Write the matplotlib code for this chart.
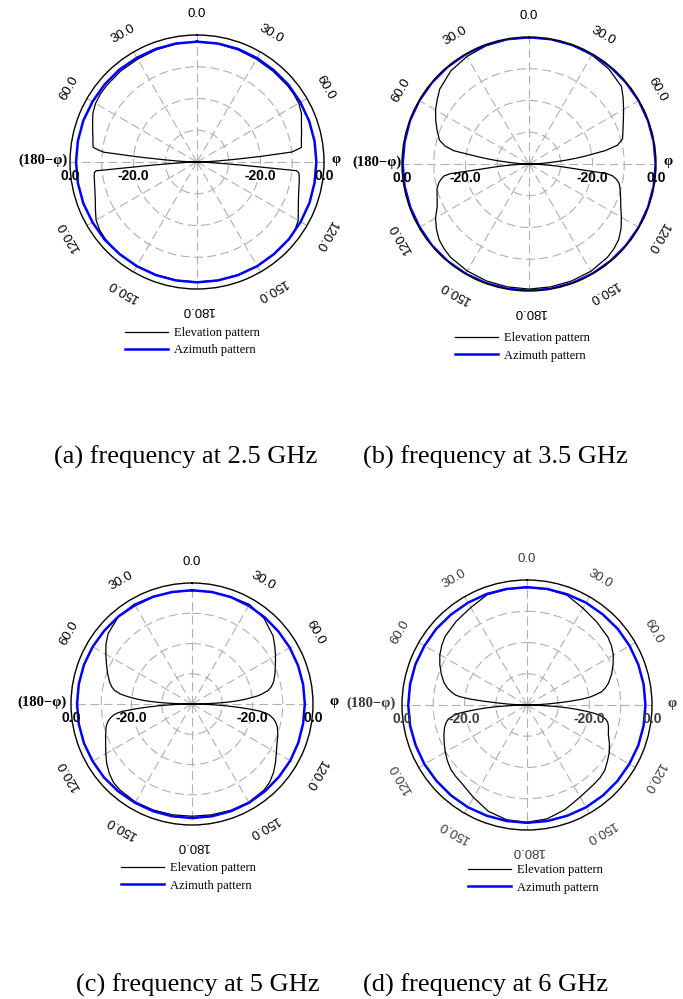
import matplotlib
matplotlib.use('Agg')
import matplotlib.pyplot as plt
from matplotlib.lines import Line2D
from matplotlib.transforms import offset_copy
import numpy as np

W, H = 683, 999

# elevation cut: angle from the top (deg), same grid for the phi side
# (right) and the (180-phi) side (left)
el_angles = [0, 10, 20, 30, 40, 50, 55, 60, 65, 70, 75, 78, 80, 82, 83, 84, 85, 86, 87, 88, 89, 90,
             91, 92, 93, 94, 95, 96, 97, 98, 100, 102, 105, 110, 115, 120, 125, 130, 135, 140, 150, 160, 170, 180]

el_a_right = [-2.1, -2.2, -2.4, -2.6, -2.7, -2.7, -2.8, -3.0, -3.7, -5.0, -5.9, -6.4, -6.6, -6.8, -8.3, -10.0, -20.0, -28.0, -33.0, -36.0, -38.5, -40.0,
              -39.0, -37.0, -34.0, -26.0, -8.5, -7.8, -7.6, -7.5, -7.3, -7.1, -6.8, -6.0, -4.8, -3.2, -2.4, -2.2, -2.2, -2.2, -2.2, -2.2, -2.2, -2.2]
el_a_left = [-2.1, -2.2, -2.4, -2.6, -2.6, -2.7, -2.8, -3.1, -3.8, -5.0, -6.0, -6.5, -6.7, -7.0, -8.6, -10.5, -21.0, -29.0, -33.5, -36.5, -38.5, -40.0,
             -39.0, -37.0, -34.0, -26.0, -8.0, -7.5, -7.4, -7.3, -7.2, -7.0, -6.7, -5.9, -4.7, -3.3, -2.6, -2.3, -2.2, -2.2, -2.2, -2.2, -2.2, -2.2]

el_b_right = [-0.1, -0.1, -0.2, -0.4, -0.9, -2.0, -3.8, -5.6, -7.2, -8.5, -9.5, -11.5, -15.5, -22.0, -25.0, -28.0, -31.0, -33.5, -35.5, -37.0, -38.5, -40.0,
              -39.0, -37.5, -35.0, -32.0, -29.0, -25.0, -15.5, -13.5, -12.0, -11.0, -10.3, -9.3, -8.1, -6.4, -4.6, -3.1, -2.2, -1.6, -1.0, -0.8, -0.7, -0.6]
el_b_left = [-0.1, -0.2, -0.4, -0.9, -1.7, -3.3, -4.7, -6.0, -7.6, -9.2, -10.8, -13.0, -16.0, -24.0, -27.0, -30.0, -33.0, -35.0, -36.5, -38.0, -39.0, -40.0,
             -39.0, -37.5, -35.5, -32.0, -29.0, -25.5, -15.0, -13.0, -11.8, -10.9, -10.0, -9.2, -8.1, -6.0, -4.4, -3.0, -2.2, -1.6, -1.1, -0.8, -0.7, -0.6]

el_c_right = [-2.4, -2.4, -2.3, -2.0, -3.0, -5.0, -6.6, -8.1, -9.6, -10.8, -12.1, -13.3, -14.5, -16.8, -18.2, -20.5, -22.5, -25.0, -28.0, -32.0, -36.0, -40.0,
              -37.0, -33.0, -29.0, -25.0, -21.0, -17.5, -15.5, -14.2, -12.8, -11.8, -10.8, -9.8, -9.0, -7.8, -6.3, -4.8, -3.6, -2.9, -2.5, -2.6, -2.8, -2.9]
el_c_left = [-2.4, -2.4, -2.2, -1.9, -2.2, -3.8, -5.3, -7.1, -8.8, -10.3, -11.8, -12.9, -14.0, -16.0, -17.8, -19.8, -22.0, -24.5, -28.0, -32.0, -36.0, -40.0,
             -37.0, -33.0, -29.0, -25.0, -21.0, -17.0, -15.0, -13.8, -12.5, -11.5, -10.6, -9.6, -8.5, -7.1, -5.6, -4.3, -3.3, -2.9, -2.6, -2.7, -2.8, -2.9]

el_d_right = [-2.3, -2.4, -2.6, -4.2, -5.3, -6.2, -7.0, -8.1, -9.6, -11.2, -13.0, -14.5, -15.8, -18.5, -20.0, -22.5, -26.0, -30.0, -33.0, -36.0, -38.0, -40.0,
              -38.0, -35.0, -31.0, -27.0, -24.0, -21.0, -18.5, -16.5, -14.5, -13.6, -13.0, -12.3, -10.9, -9.6, -8.6, -7.5, -7.0, -6.8, -6.0, -4.4, -3.0, -2.5]
el_d_left = [-2.3, -2.4, -2.5, -4.0, -4.9, -5.8, -6.7, -7.8, -9.2, -10.8, -12.5, -14.0, -15.3, -16.8, -18.5, -21.5, -26.0, -30.5, -33.5, -36.0, -38.0, -40.0,
             -38.0, -35.0, -31.0, -27.0, -24.0, -21.0, -18.0, -16.5, -14.5, -13.6, -12.7, -11.7, -10.8, -9.8, -8.9, -8.1, -7.7, -7.4, -5.8, -3.8, -2.7, -2.5]

# azimuth cut, every 10 deg clockwise from the top
az_angles = list(range(0, 361, 10))
az_a = [-2.1, -2.1, -2.1, -2.2, -2.3, -2.3, -2.4, -2.4, -2.4, -2.4, -2.4, -2.3, -2.3, -2.2, -2.2, -2.1, -2.1, -2.1, -2.1,
        -2.1, -2.1, -2.1, -2.1, -2.0, -2.0, -1.9, -1.9, -1.9, -1.9, -1.9, -2.0, -2.0, -2.0, -2.1, -2.1, -2.1, -2.1]
az_b = [-0.1, -0.1, -0.1, -0.1, -0.1, -0.1, -0.1, -0.1, -0.1, -0.1, -0.1, -0.1, -0.1, -0.1, -0.1, -0.1, -0.1, -0.1, -0.1,
        -0.1, -0.1, -0.1, -0.1, -0.1, -0.2, -0.2, -0.2, -0.2, -0.2, -0.1, -0.1, -0.1, -0.1, -0.1, -0.1, -0.1, -0.1]
az_c = [-2.4, -2.4, -2.4, -2.5, -2.6, -2.7, -2.7, -2.7, -2.7, -2.7, -2.7, -2.6, -2.5, -2.5, -2.4, -2.3, -2.3, -2.3, -2.3,
        -2.3, -2.3, -2.3, -2.2, -2.1, -2.1, -2.0, -2.0, -2.0, -2.0, -2.0, -2.1, -2.2, -2.2, -2.3, -2.3, -2.4, -2.4]
az_d = [-2.3, -2.3, -2.3, -2.2, -2.2, -2.1, -2.1, -2.1, -2.1, -2.1, -2.1, -2.1, -2.2, -2.2, -2.2, -2.2, -2.3, -2.3, -2.3,
        -2.3, -2.3, -2.2, -2.2, -2.2, -2.1, -2.1, -2.0, -2.0, -2.0, -2.0, -2.1, -2.1, -2.2, -2.2, -2.2, -2.3, -2.3]

captions = ['(a) frequency at 2.5 GHz', '(b) frequency at 3.5 GHz',
            '(c) frequency at 5 GHz', '(d) frequency at 6 GHz']
angle_ticks = [0, 30, 60, 120, 150, 180, 210, 240, 300, 330]
angle_labels = ['0.0', '30.0', '60.0', '120.0', '150.0', '180.0', '150.0', '120.0', '60.0', '30.0']
r_ticks = [0, -20]
r_labels = ['0.0', '-20.0']

# layout in pixels: centre x, centre y, outer radius
geom = [(197, 162, 127), (529, 164, 127), (192, 704, 121), (527, 705, 125)]
legend_pos = [(125, 341.5), (455, 347), (121, 877), (468, 879)]
caption_pos = [(186, 464), (495, 464), (198, 992), (486, 992)]
phi_off = [(-2, 7), (0, 8), (-4, 17), (-6, 15)]
text_col = ['black', 'black', 'black', '#3a3a3a']

panels = [(el_a_right, el_a_left, az_a), (el_b_right, el_b_left, az_b),
          (el_c_right, el_c_left, az_c), (el_d_right, el_d_left, az_d)]

fig = plt.figure(figsize=(W / 100, H / 100), dpi=100)

for i, (right, left, az) in enumerate(panels):
    cx, cy, R = geom[i]
    ax = fig.add_axes([(cx - R) / W, (H - cy - R) / H, 2 * R / W, 2 * R / H],
                      projection='polar')
    ax.set_theta_zero_location('N')
    ax.set_theta_direction(-1)
    ax.set_ylim(-40, 0)
    ax.set_xticks(np.deg2rad(np.arange(0, 360, 30)))
    ax.set_xticklabels([])
    ax.set_yticks([-30, -20, -10])
    ax.set_yticklabels([])
    ax.tick_params(length=0)
    ax.grid(True, color='#b0b0b0', linestyle=(0, (8, 4)), linewidth=0.8)
    ax.spines['polar'].set_color('black')
    ax.spines['polar'].set_linewidth(1.0)
    ax.patch.set_alpha(0)

    theta = el_angles + [360 - a for a in el_angles[::-1]]
    vals = right + left[::-1]
    ax.plot(np.deg2rad(theta), vals, color='black', lw=0.9)
    ax.plot(np.deg2rad(az_angles), az, color='#0000ff', lw=1.8)

    col = text_col[i]
    k = (R + 21) / (2 * R)
    for ang, lab in zip(angle_ticks, angle_labels):
        t = np.deg2rad(ang)
        ax.text(0.5 + k * np.sin(t), 0.5 + k * np.cos(t), lab, transform=ax.transAxes,
                rotation=-ang, rotation_mode='anchor', ha='center', va='center',
                fontsize=9.5, family='Liberation Sans', color=col)

    below = offset_copy(ax.transData, fig=fig, x=0, y=-14, units='dots')
    for rv, lab in zip(r_ticks, r_labels):
        for side in (90, 270):
            ax.text(np.deg2rad(side), rv, lab, transform=below, ha='center', va='center',
                    fontsize=10, fontweight='bold', family='Liberation Sans', color=col)

    lo, ro = phi_off[i]
    ax.text(np.deg2rad(270), 0, '(180\u2212\u03c6)',
            transform=offset_copy(ax.transData, fig=fig, x=lo, y=2, units='dots'),
            ha='right', va='center', fontsize=10.5, fontweight='bold',
            family='Liberation Serif', color=col)
    ax.text(np.deg2rad(90), 0, '\u03c6',
            transform=offset_copy(ax.transData, fig=fig, x=ro, y=2, units='dots'),
            ha='left', va='center', fontsize=10.5, fontweight='bold',
            family='Liberation Serif', color=col)

    handles = [Line2D([], [], color='black', lw=0.9),
               Line2D([], [], color='#0000ff', lw=1.8)]
    lx, ly = legend_pos[i]
    ax.legend(handles, ['Elevation pattern', 'Azimuth pattern'], loc='center left',
              bbox_to_anchor=(lx / W, 1 - ly / H), bbox_transform=fig.transFigure,
              frameon=False, borderpad=0, borderaxespad=0, handlelength=3.4,
              handletextpad=0.5, labelspacing=0.4,
              prop={'family': 'Liberation Serif', 'size': 9})

    px, py = caption_pos[i]
    fig.text(px / W, 1 - py / H, captions[i], ha='center', va='baseline',
             fontsize=19, family='Liberation Serif')

fig.savefig('out.png', dpi=100)
